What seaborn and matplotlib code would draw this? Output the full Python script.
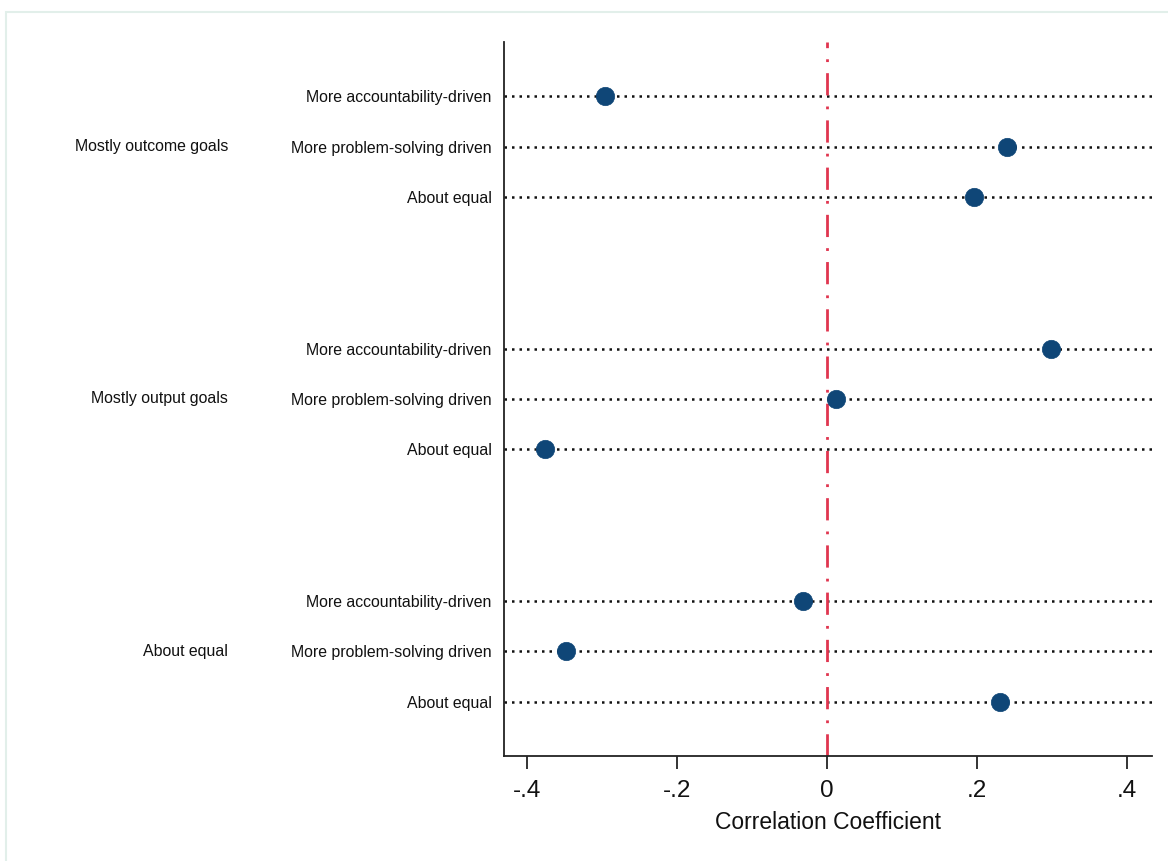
import matplotlib
matplotlib.use("Agg")
import matplotlib.pyplot as plt
import matplotlib.transforms as mtransforms
from matplotlib.patches import Rectangle
import seaborn as sns
import pandas as pd
import numpy as np

# ---- data ----
groups = ["Mostly outcome goals", "Mostly output goals", "About equal"]
subcats = ["More accountability-driven", "More problem-solving driven", "About equal"]
values = [
    [-0.297, 0.240, 0.195],  # Mostly outcome goals
    [0.298, 0.012, -0.377],  # Mostly output goals
    [-0.033, -0.348, 0.230], # About equal
]
xticks = [-0.4, -0.2, 0.0, 0.2, 0.4]
xtick_labels = ["-.4", "-.2", "0", ".2", ".4"]
xlabel = "Correlation Coefficient"

# ---- build table ----
rows = []
for gi, g in enumerate(groups):
    for si, s in enumerate(subcats):
        rows.append({"group": g, "sub": s, "pos": gi * 5 + si + 1, "value": values[gi][si]})
df = pd.DataFrame(rows)

sns.set_theme(style="white")
plt.rcParams["font.family"] = ["Liberation Sans", "DejaVu Sans"]

fig = plt.figure(figsize=(11.68, 8.61), dpi=100)
fig.patch.set_facecolor("white")
# light frame around figure
fig.patches.append(Rectangle((6 / 1168, -0.01), 1.1, 1 - 12 / 861 + 0.01,
                             transform=fig.transFigure, fill=False,
                             edgecolor="#e2efea", linewidth=1.5, zorder=0))

ax = fig.add_axes([504 / 1168, 1 - 756 / 861, (1152 - 504) / 1168, (756 - 42) / 861])

# dotted horizontal lines at each row
for p in df["pos"]:
    ax.axhline(p, color="#111111", linestyle=(0, (1, 2.0)), linewidth=1.8, zorder=1)

# vertical reference line at 0
ax.axvline(0, color="#e0354f", linestyle=(0, (8, 4, 1, 4)), linewidth=2, zorder=2)

sns.scatterplot(data=df, x="value", y="pos", ax=ax, s=175, color="#0f4677",
                edgecolor="#0f4677", linewidth=0.5, zorder=3, legend=False)

ax.set_xlim(-0.431, 0.433)
ax.set_ylim(14.08, -0.08)
ax.set_xticks(xticks)
ax.set_xticklabels(xtick_labels, fontsize=17.5)
ax.set_yticks(df["pos"].tolist())
ax.set_yticklabels(df["sub"].tolist(), fontsize=11.4, color="#111111")
ax.tick_params(axis="y", length=0, pad=9)
ax.tick_params(axis="x", length=9.5, width=1.2, direction="out", pad=8, colors="#111111",
               bottom=True)
ax.set_xlabel(xlabel, fontsize=16.5, labelpad=6, color="#111111")
ax.set_ylabel("")

for side in ["top", "right"]:
    ax.spines[side].set_visible(False)
for side in ["left", "bottom"]:
    ax.spines[side].set_color("#222222")
    ax.spines[side].set_linewidth(1.3)
ax.grid(False)

# group labels
trans = mtransforms.blended_transform_factory(fig.transFigure, ax.transData)
for gi, g in enumerate(groups):
    ax.text(228 / 1168, gi * 5 + 2, g, transform=trans, ha="right", va="center",
            fontsize=11.4, color="#111111")

fig.savefig("out.png", dpi=100)
